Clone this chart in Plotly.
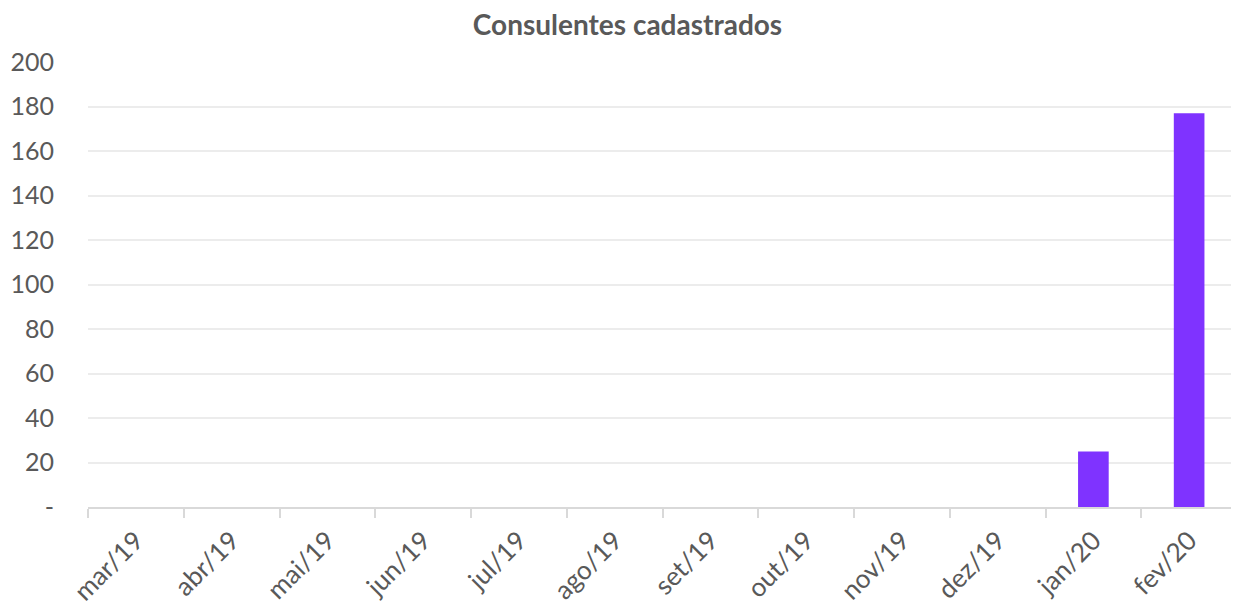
import plotly.graph_objects as go

categories = ["mar/19", "abr/19", "mai/19", "jun/19", "jul/19", "ago/19",
              "set/19", "out/19", "nov/19", "dez/19", "jan/20", "fev/20"]
values = [0, 0, 0, 0, 0, 0, 0, 0, 0, 0, 25, 177]
y_tickvals = [0, 20, 40, 60, 80, 100, 120, 140, 160, 180, 200]
y_ticktext = ["-", "20", "40", "60", "80", "100", "120", "140", "160", "180", "200"]

FONT = "Lato, Open Sans, sans-serif"
GREY = "#595959"

fig = go.Figure(go.Bar(x=categories, y=values, marker_color="#7f33ff",
                       marker_line_width=0))

fig.update_layout(
    width=1239, height=611,
    margin=dict(l=80, r=10, t=54, b=112, autoexpand=False),
    paper_bgcolor="white", plot_bgcolor="white",
    bargap=0.68,
    showlegend=False,
    title=dict(text="<b>Consulentes cadastrados</b>", x=0.5, xanchor="center",
               y=0.972, yanchor="middle",
               font=dict(family=FONT, size=28, color=GREY)),
    font=dict(family=FONT, size=25, color=GREY),
)
fig.update_xaxes(
    type="category", tickangle=-45, showgrid=False, automargin=False,
    showline=True, linecolor="#d9d9d9", linewidth=2,
    ticks="outside", tickson="boundaries", ticklen=9, tickcolor="#d9d9d9", tickwidth=2,
    ticklabelstandoff=6,
    tickfont=dict(family=FONT, size=26, color=GREY),
)
fig.update_yaxes(
    range=[0, 200], tickvals=y_tickvals, ticktext=y_ticktext, automargin=False,
    showgrid=True, gridcolor="#ececec", gridwidth=1.5,
    zeroline=False, showline=False, ticks="",
    ticklabelstandoff=33,
    tickfont=dict(family=FONT, size=25, color=GREY),
)

fig.write_html("out.html")
